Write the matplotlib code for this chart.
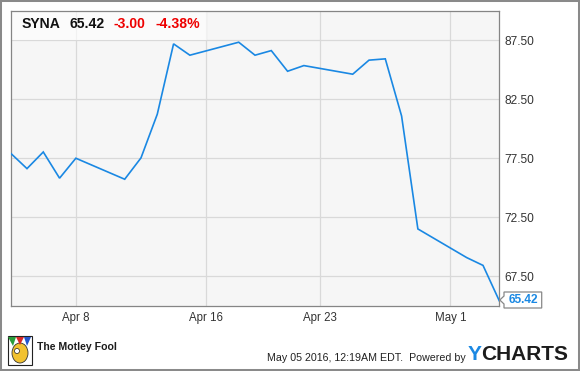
import numpy as np
import matplotlib
matplotlib.use("Agg")
import matplotlib.pyplot as plt
import matplotlib.dates as mdates
from matplotlib.patches import Rectangle, Polygon, Ellipse

# ---- data ----
dates = ["2016-04-04", "2016-04-05", "2016-04-06", "2016-04-07", "2016-04-08",
         "2016-04-11", "2016-04-12", "2016-04-13", "2016-04-14", "2016-04-15",
         "2016-04-18", "2016-04-19", "2016-04-20", "2016-04-21", "2016-04-22",
         "2016-04-25", "2016-04-26", "2016-04-27", "2016-04-28", "2016-04-29",
         "2016-05-02", "2016-05-03", "2016-05-04"]
prices = [77.92, 76.62, 78.03, 75.81, 77.50,
          75.72, 77.53, 81.23, 87.19, 86.23,
          87.33, 86.23, 86.62, 84.87, 85.35,
          84.62, 85.81, 85.92, 81.08, 71.51,
          69.08, 68.42, 65.42]
ticker = "SYNA"
last_price = "65.42"
change = "-3.00"
change_pct = "-4.38%"
x_tick_dates = ["2016-04-08", "2016-04-16", "2016-04-23", "2016-05-01"]
x_tick_labels = ["Apr 8", "Apr 16", "Apr 23", "May 1"]
y_ticks = [67.5, 72.5, 77.5, 82.5, 87.5]
y_tick_labels = ["67.50", "72.50", "77.50", "82.50", "87.50"]
footer_stamp = "May 05 2016, 12:19AM EDT.  Powered by"

W, H = 580, 371
plt.rcParams['font.family'] = ['Liberation Sans', 'DejaVu Sans']
fig = plt.figure(figsize=(W / 100, H / 100), dpi=100)
fig.patch.set_facecolor("white")

def fx(x):
    return x / W

def fy(y):
    return 1 - y / H

L, R, T, B = 10.7, 499.3, 10.7, 306.0
ax = fig.add_axes([fx(L), fy(B), (R - L) / W, (B - T) / H])
ax.set_facecolor("#f6f6f6")

xd = mdates.date2num(np.array(dates, dtype="datetime64[D]"))
blue = "#1a88e3"
ax.plot(xd, prices, color=blue, lw=1.2, zorder=3, solid_joinstyle="miter")

ax.set_xlim(mdates.date2num(np.datetime64("2016-04-04")), mdates.date2num(np.datetime64("2016-05-04")))
ax.set_ylim(64.98, 90.0)

xt = mdates.date2num(np.array(x_tick_dates, dtype="datetime64[D]"))
ax.set_xticks(xt)
ax.set_xticklabels(x_tick_labels, fontsize=8.3, color="#333333")
ax.set_yticks(y_ticks)
ax.set_yticklabels(y_tick_labels, fontsize=8.6, color="#333333")
ax.yaxis.tick_right()
ax.tick_params(axis="both", length=0)
ax.tick_params(axis="y", pad=3.5)
ax.tick_params(axis="x", pad=4.5)
ax.grid(True, color="#d9d9d9", lw=0.9, zorder=0)
ax.set_axisbelow(True)
for s in ax.spines.values():
    s.set_color("#858585")
    s.set_linewidth(0.9)

# header box
ax.add_patch(Rectangle((0, 1 - (40 - T) / (B - T)), (206.7 - L) / (R - L), (40 - T) / (B - T),
                       transform=ax.transAxes, facecolor="white", alpha=0.65,
                       edgecolor="none", zorder=2))
hy = fy(24.5)
fig.text(fx(21.7), hy, ticker, fontsize=10.1, fontweight="bold", color="#111111", va="center")
fig.text(fx(69), hy, last_price, fontsize=10.1, fontweight="bold", color="#111111", va="center")
fig.text(fx(113.3), hy, change, fontsize=10.1, fontweight="bold", color="#ee0000", va="center")
fig.text(fx(155), hy, change_pct, fontsize=10.1, fontweight="bold", color="#ee0000", va="center")

# last value callout
bx0, bx1, by0, by1 = 504.0, 541.7, 292.0, 308.0
tipx, tipy = 499.8, 300.0
poly = Polygon([(fx(tipx), fy(tipy)), (fx(bx0), fy(tipy - 4)), (fx(bx0), fy(by0)),
                (fx(bx1), fy(by0)), (fx(bx1), fy(by1)), (fx(bx0), fy(by1)),
                (fx(bx0), fy(tipy + 4))], closed=True, transform=fig.transFigure,
               facecolor="white", edgecolor="#888888", lw=0.9, zorder=5)
fig.patches.append(poly)
fig.text(fx((bx0 + bx1) / 2 + 0.5), fy(300), last_price, fontsize=8.6, fontweight="bold",
         color=blue, ha="center", va="center", zorder=6)

# footer
fig.text(fx(466), fy(358.3), footer_stamp, fontsize=7.7, color="#222222", ha="right", va="center")
fig.text(fx(467.5), fy(355), "Y", fontsize=15, fontweight="bold", color="#1a88e3", va="center")
fig.text(fx(481), fy(355), "CHARTS", fontsize=15, fontweight="bold", color="#1c1c1c", va="center")
fig.text(fx(37.3), fy(347.5), "The Motley Fool", fontsize=7.6, fontweight="bold", color="#1c1c1c", va="center")

# Motley Fool icon (simplified)
fig.patches.append(Rectangle((fx(7.5), fy(365)), 24 / W, 29 / H, transform=fig.transFigure,
                             facecolor="white", edgecolor="#222222", lw=0.8))
fig.patches.append(Ellipse((fx(20), fy(353)), 16 / W, 20 / H, transform=fig.transFigure,
                           facecolor="#f2c230", edgecolor="#333333", lw=0.6))
fig.patches.append(Polygon([(fx(8), fy(337)), (fx(16), fy(337)), (fx(13), fy(346))],
                           transform=fig.transFigure, facecolor="#2a9d3a", edgecolor="none"))
fig.patches.append(Polygon([(fx(16), fy(337)), (fx(24), fy(337)), (fx(20), fy(345))],
                           transform=fig.transFigure, facecolor="#d62828", edgecolor="none"))
fig.patches.append(Polygon([(fx(24), fy(337)), (fx(31), fy(337)), (fx(27), fy(346))],
                           transform=fig.transFigure, facecolor="#2255cc", edgecolor="none"))
fig.patches.append(Ellipse((fx(17), fy(351)), 5 / W, 5 / H, transform=fig.transFigure,
                           facecolor="white", edgecolor="#222222", lw=0.5))

# outer frame
fig.patches.append(Rectangle((0, 0), 1, 1, transform=fig.transFigure, facecolor="none",
                             edgecolor="#8a8a8a", lw=2.9, zorder=10))

fig.savefig("out.png", dpi=100, facecolor="white")
